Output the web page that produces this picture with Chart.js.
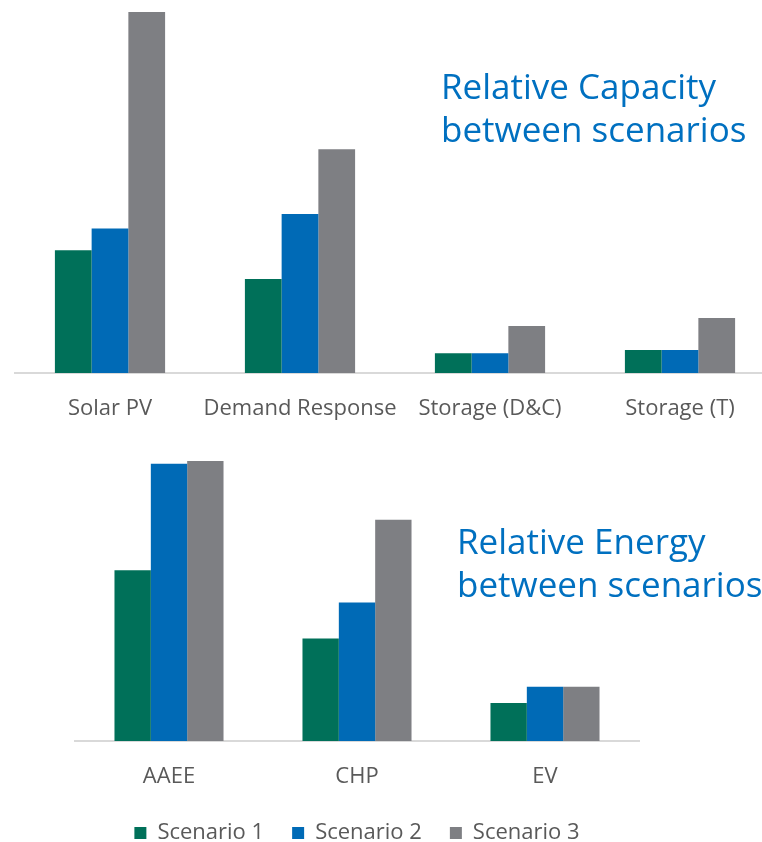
<!DOCTYPE html>
<html>
<head>
<meta charset="utf-8">
<script src="https://cdn.jsdelivr.net/npm/chart.js@4"></script>
<style>
  html, body { margin: 0; padding: 0; background: #fff; overflow: hidden; width: 762px; height: 842px; }
  .box { position: absolute; }
  .title { position: absolute; color: #0070C0; font-family: "Open Sans", sans-serif; font-size: 35px; line-height: 43px; white-space: nowrap; }
</style>
</head>
<body>
<div class="box" id="capBox" style="left:0;top:0;width:790px;height:433px;"><canvas id="capChart"></canvas></div>
<div class="box" id="enBox" style="left:0;top:440px;width:714px;height:414px;"><canvas id="enChart"></canvas></div>
<div class="title" style="left:441px;top:64px;">Relative Capacity<br>between scenarios</div>
<div class="title" style="left:457px;top:519px;">Relative Energy<br>between scenarios</div>
<script>
// capacity chart data (relative, Solar PV scenario 3 = 100)
const capCategories = ['Solar PV', 'Demand Response', 'Storage (D&C)', 'Storage (T)'];
const capScenario1 = [34, 26, 5.5, 6.4];
const capScenario2 = [40, 44, 5.5, 6.4];
const capScenario3 = [100, 62, 13, 15.2];

// energy chart data (relative, AAEE scenario 3 = 100)
const energyCategories = ['AAEE', 'CHP', 'EV'];
const energyScenario1 = [61, 36.6, 13.6];
const energyScenario2 = [99, 49.5, 19.4];
const energyScenario3 = [100, 79, 19.4];

const seriesNames = ['Scenario 1', 'Scenario 2', 'Scenario 3'];
const seriesColors = ['#007059', '#006AB6', '#7E7F83'];
const textGray = '#595959';
const fontFamily = '"Open Sans", sans-serif';

function makeDatasets(s1, s2, s3) {
    return [s1, s2, s3].map((vals, i) => ({
        label: seriesNames[i],
        data: vals,
        backgroundColor: seriesColors[i],
        borderWidth: 0,
        barPercentage: 1,
        categoryPercentage: 0.58
    }));
}

function makeOptions(yMax, pad, showLegend, axisH) {
    return {
        responsive: true,
        maintainAspectRatio: false,
        animation: false,
        layout: { padding: pad },
        plugins: {
            tooltip: { enabled: false },
            legend: {
                display: showLegend,
                position: 'bottom',
                labels: {
                    boxWidth: 12,
                    boxHeight: 12,
                    padding: 28,
                    color: textGray,
                    font: { family: fontFamily, size: 22 }
                }
            }
        },
        scales: {
            x: {
                grid: { display: false, drawTicks: false },
                border: { display: true, color: '#D9D9D9', width: 2 },
                ticks: { color: textGray, padding: 23, font: { family: fontFamily, size: 22 }, maxRotation: 0, autoSkip: false },
                afterFit(scale) { scale.height = axisH; }
            },
            y: {
                display: false,
                min: 0,
                max: yMax
            }
        }
    };
}

new Chart(document.getElementById('capChart'), {
    type: 'bar',
    data: { labels: capCategories, datasets: makeDatasets(capScenario1, capScenario2, capScenario3) },
    options: makeOptions(103.3, { left: 15, right: 15, top: 0, bottom: 0 }, false, 60)
});

new Chart(document.getElementById('enChart'), {
    type: 'bar',
    data: { labels: energyCategories, datasets: makeDatasets(energyScenario1, energyScenario2, energyScenario3) },
    options: makeOptions(107.5, { left: 75, right: 75, top: 0, bottom: 0 }, true, 53)
});
</script>
</body>
</html>
